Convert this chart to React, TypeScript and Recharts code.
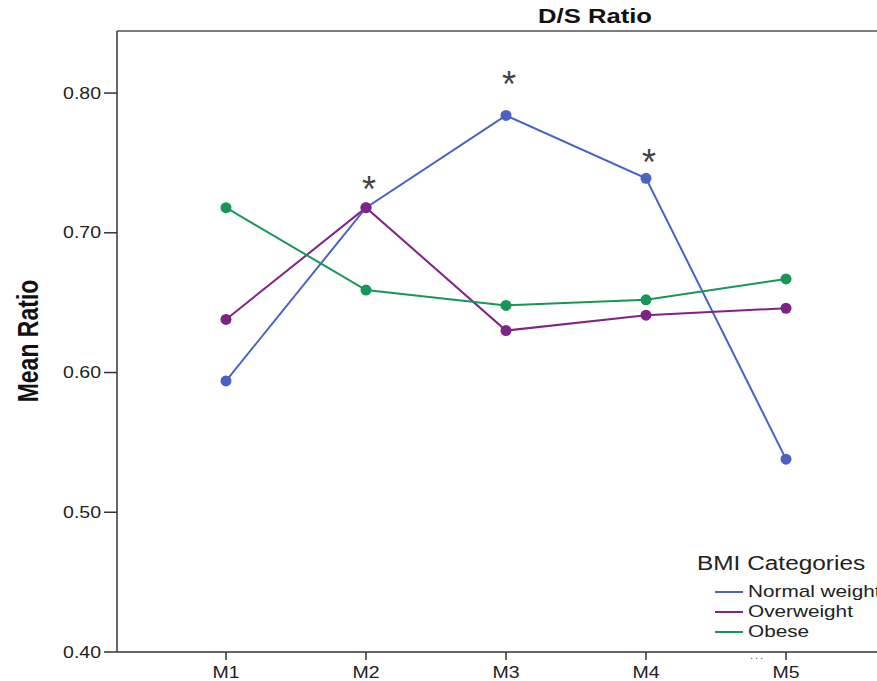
import React from "react";
import { LineChart, Line, XAxis, YAxis, ReferenceLine } from "recharts";

// Mean D/S ratio per measurement, by BMI category
const categories = ["M1", "M2", "M3", "M4", "M5"];
const normalWeight = [0.594, 0.718, 0.784, 0.739, 0.538];
const overweight = [0.638, 0.718, 0.63, 0.641, 0.646];
const obese = [0.718, 0.659, 0.648, 0.652, 0.667];
// height of the significance asterisks (null = none)
const significance = [null, 0.735, 0.81, 0.754, null];
const yTicks = [0.4, 0.5, 0.6, 0.7, 0.8];

const series = [
  { key: "normal", name: "Normal weight", color: "#4a62c4" },
  { key: "overweight", name: "Overweight", color: "#7f2387" },
  { key: "obese", name: "Obese", color: "#17965a" },
];

const data = categories.map((c, i) => ({
  cat: c,
  normal: normalWeight[i],
  overweight: overweight[i],
  obese: obese[i],
  sig: significance[i],
}));

const FONT = "'Liberation Sans', Arial, sans-serif";
const STRETCH = 1.22;
const Y_MAX = 0.8444;

const YTick = (props: any) => {
  const { x, y, payload } = props;
  return (
    <g transform={`translate(${x},${y})`}>
      <text
        transform={`scale(${STRETCH},1)`}
        textAnchor="end"
        dy="0.35em"
        fontSize={16}
        fontFamily={FONT}
        fill="#222"
      >
        {Number(payload.value).toFixed(2)}
      </text>
    </g>
  );
};

const XTick = (props: any) => {
  const { x, y, payload } = props;
  return (
    <g transform={`translate(${x},${y})`}>
      <text
        transform={`scale(${STRETCH},1)`}
        textAnchor="middle"
        dy="0.72em"
        fontSize={16}
        fontFamily={FONT}
        fill="#222"
      >
        {payload.value}
      </text>
    </g>
  );
};

const Asterisk = (props: any) => {
  const { cx, cy } = props;
  if (cx == null || cy == null || Number.isNaN(cy)) return <g />;
  return (
    <text
      x={cx + 3}
      y={cy + 18}
      textAnchor="middle"
      fontSize={36}
      fontFamily={FONT}
      fill="#444"
    >
      *
    </text>
  );
};

export default function App() {
  return (
    <div
      style={{
        position: "fixed",
        left: 0,
        top: 0,
        width: 877,
        height: 681,
        overflow: "hidden",
        background: "#fff",
        fontFamily: FONT,
      }}
    >
      <div style={{ position: "absolute", left: 8, top: 8, width: 900, height: 673 }}>
        <LineChart
          width={900}
          height={673}
          data={data}
          margin={{ top: 23, right: 13, bottom: 0, left: 0 }}
        >
          <XAxis
            dataKey="cat"
            padding={{ left: 109, right: 109 }}
            height={29}
            tickSize={8}
            tickMargin={6}
            tick={<XTick />}
            stroke="#333"
            strokeWidth={1.5}
          />
          <YAxis
            type="number"
            domain={[0.4, Y_MAX]}
            ticks={yTicks}
            allowDataOverflow
            width={109}
            tickSize={13}
            tickMargin={3}
            tick={<YTick />}
            stroke="#333"
            strokeWidth={1.5}
          />
          <ReferenceLine y={Y_MAX} stroke="#7d7d7d" strokeWidth={2} />
          {series.map((s) => (
            <Line
              key={s.key}
              type="linear"
              dataKey={s.key}
              name={s.name}
              stroke={s.color}
              strokeWidth={2}
              dot={{ r: 5.5, fill: s.color, stroke: "none" }}
              activeDot={false}
              isAnimationActive={false}
            />
          ))}
          <Line
            dataKey="sig"
            stroke="none"
            dot={<Asterisk />}
            activeDot={false}
            legendType="none"
            isAnimationActive={false}
          />
        </LineChart>

        {/* title */}
        <div
          style={{
            position: "absolute",
            left: 587,
            top: 7.5,
            transform: `translate(-50%,-50%) scaleX(${STRETCH})`,
            fontSize: 21,
            fontWeight: "bold",
            color: "#111",
            whiteSpace: "nowrap",
          }}
        >
          D/S Ratio
        </div>

        {/* y axis label */}
        <div
          style={{
            position: "absolute",
            left: 21,
            top: 333,
            transform: "translate(-50%,-50%) rotate(-90deg) scaleY(1.25)",
            fontSize: 23,
            fontWeight: "bold",
            color: "#111",
            whiteSpace: "nowrap",
          }}
        >
          Mean Ratio
        </div>

        {/* legend */}
        <div
          style={{
            position: "absolute",
            left: 689,
            top: 555,
            transform: `translateY(-50%) scaleX(${STRETCH})`,
            transformOrigin: "left center",
            fontSize: 20,
            color: "#222",
            whiteSpace: "nowrap",
          }}
        >
          BMI Categories
        </div>
        {series.map((s, i) => (
          <div
            key={s.key}
            style={{
              position: "absolute",
              left: 707,
              top: 584 + i * 20,
              transform: "translateY(-50%)",
              display: "flex",
              alignItems: "center",
              whiteSpace: "nowrap",
            }}
          >
            <div style={{ width: 28, height: 2, background: s.color }} />
            <div
              style={{
                marginLeft: 5,
                fontSize: 17,
                color: "#222",
                transform: `scaleX(${STRETCH})`,
                transformOrigin: "left center",
              }}
            >
              {s.name}
            </div>
          </div>
        ))}
        <div
          style={{
            position: "absolute",
            left: 742,
            top: 641,
            fontSize: 11,
            color: "#555",
            letterSpacing: 2,
          }}
        >
          ...
        </div>
      </div>
    </div>
  );
}
